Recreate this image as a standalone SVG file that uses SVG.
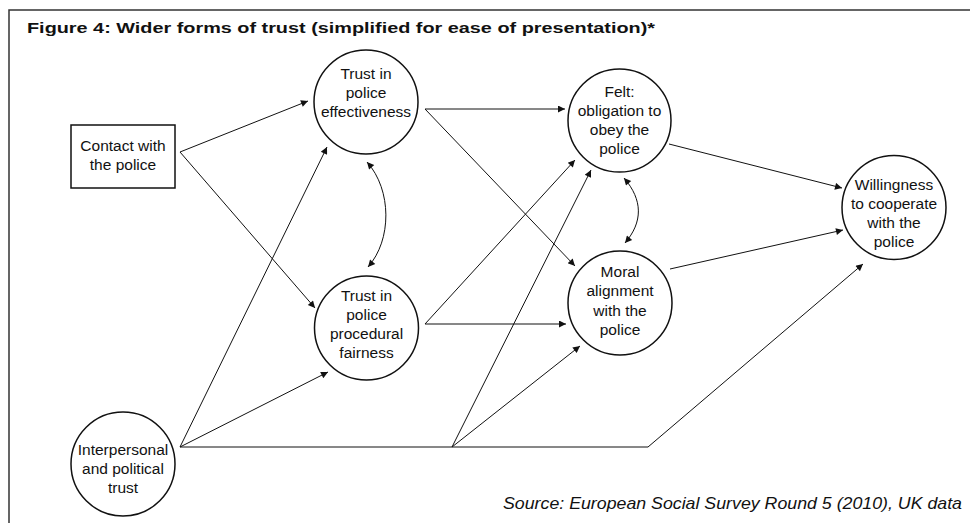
<svg xmlns="http://www.w3.org/2000/svg" width="970" height="523" viewBox="0 0 970 523">
<style>
.frame{fill:none;stroke:#333;stroke-width:1.5}
.node{fill:#fff;stroke:#111;stroke-width:1.5}
.edge{fill:none;stroke:#111;stroke-width:1}
.lbl{font-family:"Liberation Sans",Arial,Helvetica,sans-serif;font-size:15.5px;fill:#111;text-anchor:middle}
.title{font-family:"Liberation Sans",Arial,Helvetica,sans-serif;font-size:15.5px;font-weight:bold;fill:#111}
.src{font-family:"Liberation Sans",Arial,Helvetica,sans-serif;font-size:16.5px;font-style:italic;fill:#111}
</style>
<defs>
<marker id="ah" viewBox="0 0 10 10" refX="10" refY="5" markerWidth="9" markerHeight="7" markerUnits="userSpaceOnUse" orient="auto-start-reverse">
<path d="M0,0 L10,5 L0,10 z" fill="#111"/>
</marker>
</defs>
<rect width="970" height="523" fill="#fff"/>
<path class="frame" d="M9,530 V10 H975"/>
<text class="title" x="27" y="33" textLength="628" lengthAdjust="spacingAndGlyphs">Figure 4: Wider forms of trust (simplified for ease of presentation)*</text>

<g id="connectors">
<path class="edge" d="M180,152 L308,101" marker-end="url(#ah)"/>
<path class="edge" d="M180,152 L315,308" marker-end="url(#ah)"/>
<path class="edge" d="M180,447 L327,147" marker-end="url(#ah)"/>
<path class="edge" d="M180,447 L328,372" marker-end="url(#ah)"/>
<path class="edge" d="M180,447 L648,447 L863,264" marker-end="url(#ah)"/>
<path class="edge" d="M452,447 L591,170" marker-end="url(#ah)"/>
<path class="edge" d="M452,447 L580,346" marker-end="url(#ah)"/>
<path class="edge" d="M425,109 L565,109" marker-end="url(#ah)"/>
<path class="edge" d="M425,109 L575,266" marker-end="url(#ah)"/>
<path class="edge" d="M425,324 L566,324" marker-end="url(#ah)"/>
<path class="edge" d="M425,324 L575,160" marker-end="url(#ah)"/>
<path class="edge" d="M669,144 L842,188" marker-end="url(#ah)"/>
<path class="edge" d="M670,269 L843,230" marker-end="url(#ah)"/>
<path class="edge" d="M367,162 C392,190 392,240 368,267" marker-start="url(#ah)" marker-end="url(#ah)"/>
<path class="edge" d="M624,178 C643,200 643,222 625,243" marker-start="url(#ah)" marker-end="url(#ah)"/>
</g>

<g id="contact">
<rect class="node" x="71" y="125" width="104" height="63"/>
<text class="lbl" x="123" y="151">Contact with</text>
<text class="lbl" x="123" y="170">the police</text>
</g>
<g id="effectiveness">
<circle class="node" cx="366" cy="102" r="52"/>
<text class="lbl" x="366" y="79">Trust in</text>
<text class="lbl" x="366" y="98">police</text>
<text class="lbl" x="366" y="117">effectiveness</text>
</g>
<g id="procedural">
<circle class="node" cx="366.5" cy="328" r="52"/>
<text class="lbl" x="366.5" y="301">Trust in</text>
<text class="lbl" x="366.5" y="320">police</text>
<text class="lbl" x="366.5" y="339">procedural</text>
<text class="lbl" x="366.5" y="358">fairness</text>
</g>
<g id="interpersonal">
<circle class="node" cx="123" cy="464" r="52"/>
<text class="lbl" x="123" y="455">Interpersonal</text>
<text class="lbl" x="123" y="474">and political</text>
<text class="lbl" x="123" y="493">trust</text>
</g>
<g id="felt">
<circle class="node" cx="619.5" cy="120.5" r="51.5"/>
<text class="lbl" x="619.5" y="97">Felt:</text>
<text class="lbl" x="619.5" y="116">obligation to</text>
<text class="lbl" x="619.5" y="135">obey the</text>
<text class="lbl" x="619.5" y="154">police</text>
</g>
<g id="moral">
<circle class="node" cx="620" cy="303" r="52"/>
<text class="lbl" x="620" y="277">Moral</text>
<text class="lbl" x="620" y="296">alignment</text>
<text class="lbl" x="620" y="316">with the</text>
<text class="lbl" x="620" y="335">police</text>
</g>
<g id="willingness">
<circle class="node" cx="894" cy="207.5" r="52"/>
<text class="lbl" x="894" y="190">Willingness</text>
<text class="lbl" x="894" y="209">to cooperate</text>
<text class="lbl" x="894" y="228">with the</text>
<text class="lbl" x="894" y="247">police</text>
</g>

<text class="src" x="503" y="509" textLength="459" lengthAdjust="spacingAndGlyphs">Source: European Social Survey Round 5 (2010), UK data</text>
</svg>
